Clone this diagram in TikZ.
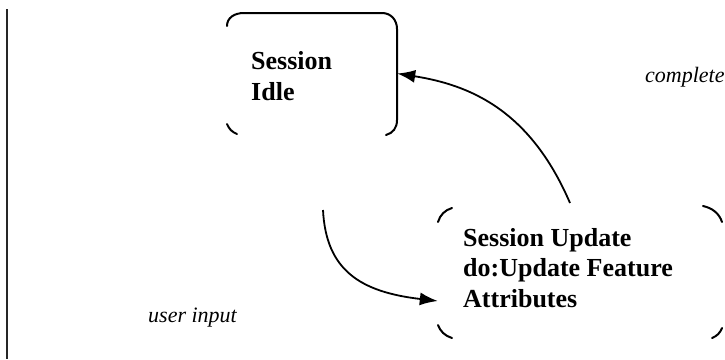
\documentclass[tikz,border=0pt]{standalone}
\usepackage{fontspec}
\setmainfont{Liberation Serif}
\usetikzlibrary{arrows.meta}
\tikzset{
  frag/.style={line width=2pt, line cap=round},
  trans/.style={line width=1.8pt, -{Latex[length=18pt,width=13pt]}},
  statetext/.style={font=\fontsize{26}{30.5}\selectfont\bfseries, align=left, inner sep=0pt, anchor=base west},
  evtext/.style={font=\fontsize{22}{26}\selectfont\itshape, inner sep=0pt, anchor=base west},
  shapebox/.style={inner sep=0pt, minimum width=#1}
}
\begin{document}
\begin{tikzpicture}[x=1pt, y=-1pt]
  \useasboundingbox (0,0) rectangle (725,359);

  % state outlines (invisible nodes carry the anchors)
  \node[shapebox=170pt, minimum height=121pt] (idle) at (312,73.5) {};
  \node[shapebox=284pt, minimum height=131pt] (update) at (580,272.5) {};

  % visible pieces of the Session Idle outline
  \draw[frag] (227,26) .. controls (227,18) and (234,13) .. (244,13) -- (382,13)
     .. controls (391,13) and (397,20) .. (397,29) -- (397,120)
     .. controls (397,128) and (393,133) .. (386,135);
  \draw[frag] (227,124) .. controls (229,129) and (232,132) .. (237,134);

  % visible corners of the Session Update outline
  \draw[frag] (438,222) .. controls (440,215) and (445,210) .. (452,208);
  \draw[frag] (703,206) .. controls (712,208) and (719,213) .. (722,222);
  \draw[frag] (438,325) .. controls (440,331) and (445,336) .. (452,338);
  \draw[frag] (712,338) .. controls (717,336) and (720,333) .. (722,328);

  % state texts (base anchor sits on the last line)
  \node[statetext] (idletext) at (251,100) {Session\\Idle};
  \node[statetext] (updatetext) at (463,307) {Session Update\\do:Update Feature\\Attributes};

  % event labels
  \node[evtext] (complete) at (645,82) {complete};
  \node[evtext] (userinput) at (148,322) {user input};

  % transitions
  \coordinate (cstart) at (570,203);
  \coordinate (ustart) at (323,210);
  \coordinate (uend) at (update.west |- 0,301);
  \draw[trans] (cstart) .. controls (530,110) and (470,85) .. (idle.east);
  \draw[trans] (ustart) .. controls (326,270) and (360,292) .. (uend);

  % left margin rule
  \coordinate (rtop) at (7,9);
  \coordinate (rbot) at (7,359);
  \draw[line width=2pt, black!85] (rtop) -- (rbot);
\end{tikzpicture}
\end{document}
